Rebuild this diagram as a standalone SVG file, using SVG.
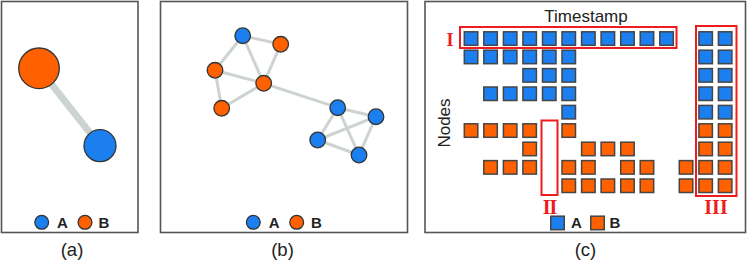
<svg xmlns="http://www.w3.org/2000/svg" width="747" height="261" viewBox="0 0 747 261">
<style>
.frame{fill:#fff;stroke:#555;stroke-width:1.6}
.cap{font-family:"Liberation Sans",Arial,sans-serif;font-size:18.5px;fill:#222;text-anchor:middle}
.leg{font-family:"Liberation Sans",Arial,sans-serif;font-size:15px;font-weight:bold;fill:#222}
.axis{font-family:"Liberation Sans",Arial,sans-serif;font-size:17px;fill:#222}
.roman{font-family:"Liberation Serif","Times New Roman",serif;font-weight:bold;fill:#ee1c1c;text-anchor:middle}
.a{fill:#1b7ff0;stroke:#333;stroke-width:1.3}
.b{fill:#ff6000;stroke:#333;stroke-width:1.3}
.sa{fill:#1b7ff0;stroke:#454545;stroke-width:1.5}
.sb{fill:#ff6000;stroke:#454545;stroke-width:1.5}
.edge{stroke:#ccd3d2;stroke-width:3;fill:none}
.box{fill:none;stroke:#ee1c1c;stroke-width:2}
</style>
<rect width="747" height="261" fill="#fff"/>
<!-- Panel frames -->
<rect class="frame" x="1.5" y="1.5" width="136.5" height="231"/>
<rect class="frame" x="160.5" y="1.5" width="247" height="231"/>
<rect class="frame" x="425" y="1.5" width="320.5" height="231"/>
<!-- Panel (a) -->
<g id="connectors-a">
<line x1="39" y1="68.3" x2="100" y2="145.7" stroke="#ccd3d2" stroke-width="7"/>
</g>
<g id="a-nodeB"><circle class="b" cx="39" cy="68.3" r="20.3"/></g>
<g id="a-nodeA"><circle class="a" cx="100" cy="145.7" r="16"/></g>
<g id="a-legend">
<circle class="a" cx="41.7" cy="222.3" r="6.9"/>
<text class="leg" x="57" y="228.3">A</text>
<circle class="b" cx="85" cy="222.3" r="6.9"/>
<text class="leg" x="98.5" y="228.3">B</text>
</g>
<text class="cap" x="72" y="256">(a)</text>
<!-- Panel (b) -->
<g id="connectors-b" class="edge">
<line x1="242.7" y1="35.7" x2="280.7" y2="44.3"/>
<line x1="242.7" y1="35.7" x2="215" y2="70.3"/>
<line x1="242.7" y1="35.7" x2="263.7" y2="83.3"/>
<line x1="280.7" y1="44.3" x2="263.7" y2="83.3"/>
<line x1="215" y1="70.3" x2="263.7" y2="83.3"/>
<line x1="215" y1="70.3" x2="221.7" y2="108.3"/>
<line x1="221.7" y1="108.3" x2="263.7" y2="83.3"/>
<line x1="263.7" y1="83.3" x2="337.7" y2="107.7"/>
<line x1="337.7" y1="107.7" x2="376" y2="116.7"/>
<line x1="337.7" y1="107.7" x2="317.7" y2="140"/>
<line x1="337.7" y1="107.7" x2="359" y2="155"/>
<line x1="376" y1="116.7" x2="317.7" y2="140"/>
<line x1="376" y1="116.7" x2="359" y2="155"/>
<line x1="317.7" y1="140" x2="359" y2="155"/>
</g>
<g id="b-n1"><circle class="a" cx="242.7" cy="35.7" r="7.8"/></g>
<g id="b-n2"><circle class="b" cx="280.7" cy="44.3" r="7.8"/></g>
<g id="b-n3"><circle class="b" cx="215" cy="70.3" r="7.8"/></g>
<g id="b-n4"><circle class="b" cx="263.7" cy="83.3" r="7.8"/></g>
<g id="b-n5"><circle class="b" cx="221.7" cy="108.3" r="7.8"/></g>
<g id="b-n6"><circle class="a" cx="337.7" cy="107.7" r="7.8"/></g>
<g id="b-n7"><circle class="a" cx="376" cy="116.7" r="7.8"/></g>
<g id="b-n8"><circle class="a" cx="317.7" cy="140" r="7.8"/></g>
<g id="b-n9"><circle class="a" cx="359" cy="155" r="7.8"/></g>
<g id="b-legend">
<circle class="a" cx="253.3" cy="222.3" r="6.9"/>
<text class="leg" x="268.7" y="228.3">A</text>
<circle class="b" cx="296.7" cy="222.3" r="6.9"/>
<text class="leg" x="311" y="228.3">B</text>
</g>
<text class="cap" x="282.5" y="256">(b)</text>
<!-- Panel (c) -->
<text class="axis" x="586" y="21.5" text-anchor="middle">Timestamp</text>
<text class="axis" transform="translate(450,123) rotate(-90)" text-anchor="middle">Nodes</text>
<g id="grid-A">
<!-- row 0 -->
<rect class="sa" x="464.3" y="31.8" width="13.5" height="13.5"/>
<rect class="sa" x="483.8" y="31.8" width="13.5" height="13.5"/>
<rect class="sa" x="503.4" y="31.8" width="13.5" height="13.5"/>
<rect class="sa" x="522.9" y="31.8" width="13.5" height="13.5"/>
<rect class="sa" x="542.5" y="31.8" width="13.5" height="13.5"/>
<rect class="sa" x="562" y="31.8" width="13.5" height="13.5"/>
<rect class="sa" x="581.6" y="31.8" width="13.5" height="13.5"/>
<rect class="sa" x="601.1" y="31.8" width="13.5" height="13.5"/>
<rect class="sa" x="620.7" y="31.8" width="13.5" height="13.5"/>
<rect class="sa" x="640.2" y="31.8" width="13.5" height="13.5"/>
<rect class="sa" x="659.8" y="31.8" width="13.5" height="13.5"/>
<rect class="sa" x="698.9" y="31.8" width="13.5" height="13.5"/>
<rect class="sa" x="718.4" y="31.8" width="13.5" height="13.5"/>
<!-- row 1 -->
<rect class="sa" x="464.3" y="50.2" width="13.5" height="13.5"/>
<rect class="sa" x="483.8" y="50.2" width="13.5" height="13.5"/>
<rect class="sa" x="503.4" y="50.2" width="13.5" height="13.5"/>
<rect class="sa" x="522.9" y="50.2" width="13.5" height="13.5"/>
<rect class="sa" x="542.5" y="50.2" width="13.5" height="13.5"/>
<rect class="sa" x="562" y="50.2" width="13.5" height="13.5"/>
<rect class="sa" x="698.9" y="50.2" width="13.5" height="13.5"/>
<rect class="sa" x="718.4" y="50.2" width="13.5" height="13.5"/>
<!-- row 2 -->
<rect class="sa" x="522.9" y="68.6" width="13.5" height="13.5"/>
<rect class="sa" x="542.5" y="68.6" width="13.5" height="13.5"/>
<rect class="sa" x="562" y="68.6" width="13.5" height="13.5"/>
<rect class="sa" x="698.9" y="68.6" width="13.5" height="13.5"/>
<rect class="sa" x="718.4" y="68.6" width="13.5" height="13.5"/>
<!-- row 3 -->
<rect class="sa" x="483.8" y="87" width="13.5" height="13.5"/>
<rect class="sa" x="503.4" y="87" width="13.5" height="13.5"/>
<rect class="sa" x="522.9" y="87" width="13.5" height="13.5"/>
<rect class="sa" x="542.5" y="87" width="13.5" height="13.5"/>
<rect class="sa" x="562" y="87" width="13.5" height="13.5"/>
<rect class="sa" x="698.9" y="87" width="13.5" height="13.5"/>
<rect class="sa" x="718.4" y="87" width="13.5" height="13.5"/>
<!-- row 4 -->
<rect class="sa" x="562" y="105.4" width="13.5" height="13.5"/>
<rect class="sa" x="698.9" y="105.4" width="13.5" height="13.5"/>
<rect class="sa" x="718.4" y="105.4" width="13.5" height="13.5"/>
</g>
<g id="grid-B">
<!-- row 5 -->
<rect class="sb" x="464.3" y="123.8" width="13.5" height="13.5"/>
<rect class="sb" x="483.8" y="123.8" width="13.5" height="13.5"/>
<rect class="sb" x="503.4" y="123.8" width="13.5" height="13.5"/>
<rect class="sb" x="522.9" y="123.8" width="13.5" height="13.5"/>
<rect class="sb" x="562" y="123.8" width="13.5" height="13.5"/>
<rect class="sb" x="698.9" y="123.8" width="13.5" height="13.5"/>
<rect class="sb" x="718.4" y="123.8" width="13.5" height="13.5"/>
<!-- row 6 -->
<rect class="sb" x="522.9" y="142.2" width="13.5" height="13.5"/>
<rect class="sb" x="581.6" y="142.2" width="13.5" height="13.5"/>
<rect class="sb" x="601.1" y="142.2" width="13.5" height="13.5"/>
<rect class="sb" x="620.7" y="142.2" width="13.5" height="13.5"/>
<rect class="sb" x="698.9" y="142.2" width="13.5" height="13.5"/>
<rect class="sb" x="718.4" y="142.2" width="13.5" height="13.5"/>
<!-- row 7 -->
<rect class="sb" x="483.8" y="160.6" width="13.5" height="13.5"/>
<rect class="sb" x="503.4" y="160.6" width="13.5" height="13.5"/>
<rect class="sb" x="522.9" y="160.6" width="13.5" height="13.5"/>
<rect class="sb" x="562" y="160.6" width="13.5" height="13.5"/>
<rect class="sb" x="581.6" y="160.6" width="13.5" height="13.5"/>
<rect class="sb" x="620.7" y="160.6" width="13.5" height="13.5"/>
<rect class="sb" x="640.2" y="160.6" width="13.5" height="13.5"/>
<rect class="sb" x="679.3" y="160.6" width="13.5" height="13.5"/>
<rect class="sb" x="698.9" y="160.6" width="13.5" height="13.5"/>
<rect class="sb" x="718.4" y="160.6" width="13.5" height="13.5"/>
<!-- row 8 -->
<rect class="sb" x="562" y="179" width="13.5" height="13.5"/>
<rect class="sb" x="581.6" y="179" width="13.5" height="13.5"/>
<rect class="sb" x="601.1" y="179" width="13.5" height="13.5"/>
<rect class="sb" x="620.7" y="179" width="13.5" height="13.5"/>
<rect class="sb" x="640.2" y="179" width="13.5" height="13.5"/>
<rect class="sb" x="679.3" y="179" width="13.5" height="13.5"/>
<rect class="sb" x="698.9" y="179" width="13.5" height="13.5"/>
<rect class="sb" x="718.4" y="179" width="13.5" height="13.5"/>
</g>
<g id="highlight-I">
<rect class="box" x="460" y="27" width="216.5" height="21"/>
<text class="roman" x="450" y="45.5" font-size="18">I</text>
</g>
<g id="highlight-II">
<rect class="box" x="541.5" y="120.5" width="16" height="74.5"/>
<text class="roman" x="549.5" y="213.5" font-size="20" letter-spacing="-1">II</text>
</g>
<g id="highlight-III">
<rect class="box" x="696" y="26" width="40.5" height="170"/>
<text class="roman" x="716" y="213.5" font-size="20">III</text>
</g>
<g id="c-legend">
<rect class="sa" x="550.75" y="216.2" width="13.5" height="13.5"/>
<text class="leg" x="571" y="228">A</text>
<rect class="sb" x="590.75" y="216.2" width="13.5" height="13.5"/>
<text class="leg" x="609.5" y="228">B</text>
</g>
<text class="cap" x="585.5" y="256">(c)</text>
</svg>
